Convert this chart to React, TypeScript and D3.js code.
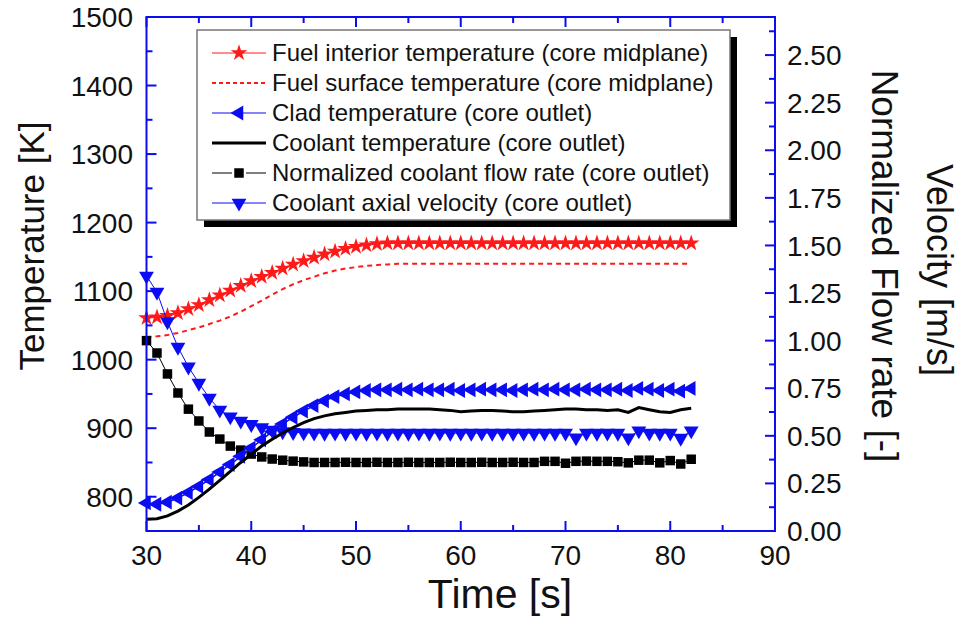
import React from 'react';
import * as d3 from 'd3';

// time axis, one sample per second
const time = [30, 31, 32, 33, 34, 35, 36, 37, 38, 39, 40, 41, 42, 43, 44, 45, 46, 47, 48, 49, 50, 51, 52, 53, 54, 55, 56, 57, 58, 59, 60, 61, 62, 63, 64, 65, 66, 67, 68, 69, 70, 71, 72, 73, 74, 75, 76, 77, 78, 79, 80, 81, 82];

// temperatures [K] (left axis)
const fuelInterior = [1061, 1062, 1064, 1068, 1074, 1080, 1087, 1094, 1101, 1108, 1115, 1121, 1127, 1133, 1139, 1144, 1149, 1154, 1158, 1162, 1165, 1167, 1169, 1170, 1170, 1170, 1170, 1170, 1170, 1170, 1170, 1170, 1170, 1170, 1170, 1170, 1170, 1170, 1170, 1170, 1170, 1170, 1170, 1170, 1170, 1170, 1170, 1170, 1170, 1170, 1170, 1170, 1170];
const fuelSurface = [1033, 1034, 1036, 1039, 1043, 1047, 1052, 1057, 1063, 1070, 1078, 1086, 1095, 1103, 1110, 1116, 1121, 1126, 1130, 1133, 1135, 1137, 1138, 1139, 1140, 1140, 1140, 1140, 1140, 1140, 1140, 1140, 1140, 1140, 1140, 1140, 1140, 1140, 1140, 1140, 1140, 1140, 1140, 1140, 1140, 1140, 1140, 1140, 1140, 1140, 1140, 1140, 1140];
const clad = [791, 789, 792, 798, 806, 815, 825, 836, 847, 859, 871, 883, 895, 906, 916, 925, 933, 940, 946, 950, 953, 955, 956, 956, 957, 956, 957, 956, 956, 957, 955, 956, 957, 956, 956, 955, 956, 957, 956, 957, 956, 956, 957, 956, 956, 957, 955, 958, 957, 955, 957, 954, 958];
const coolant = [767, 768, 772, 779, 788, 799, 811, 824, 837, 850, 862, 874, 884, 893, 901, 908, 914, 918, 921, 923, 925, 926, 927, 927, 928, 928, 928, 928, 927, 926, 924, 925, 926, 926, 925, 924, 924, 925, 926, 927, 928, 928, 927, 927, 926, 927, 923, 930, 927, 924, 923, 927, 929];

// right axis: normalized flow [-] and velocity [m/s]
const flowRate = [1.0, 0.935, 0.825, 0.725, 0.64, 0.578, 0.52, 0.483, 0.446, 0.425, 0.404, 0.389, 0.378, 0.372, 0.367, 0.363, 0.36, 0.36, 0.36, 0.361, 0.36, 0.36, 0.361, 0.36, 0.36, 0.361, 0.36, 0.36, 0.36, 0.361, 0.36, 0.36, 0.361, 0.36, 0.36, 0.361, 0.36, 0.36, 0.366, 0.366, 0.356, 0.366, 0.367, 0.366, 0.366, 0.364, 0.358, 0.372, 0.372, 0.358, 0.37, 0.352, 0.377];
const velocity = [1.34, 1.255, 1.1, 0.966, 0.862, 0.777, 0.698, 0.636, 0.6, 0.578, 0.56, 0.543, 0.53, 0.522, 0.518, 0.516, 0.515, 0.514, 0.515, 0.514, 0.515, 0.514, 0.515, 0.514, 0.515, 0.514, 0.515, 0.514, 0.515, 0.514, 0.515, 0.514, 0.515, 0.514, 0.515, 0.514, 0.515, 0.514, 0.515, 0.514, 0.515, 0.49, 0.515, 0.514, 0.515, 0.514, 0.49, 0.527, 0.515, 0.514, 0.515, 0.488, 0.527];

const xTicks = [30, 40, 50, 60, 70, 80, 90];
const leftTicks = [800, 900, 1000, 1100, 1200, 1300, 1400, 1500];
const rightTicks = [0, 0.25, 0.5, 0.75, 1, 1.25, 1.5, 1.75, 2, 2.25, 2.5];

const legendLabels = [
  'Fuel interior temperature (core midplane)',
  'Fuel surface temperature (core midplane)',
  'Clad temperature (core outlet)',
  'Coolant temperature (core outlet)',
  'Normalized coolant flow rate (core outlet)',
  'Coolant axial velocity (core outlet)',
];

const FONT = '"Liberation Sans", Arial, sans-serif';
const BLUE = '#0c0cf2';
const RED = '#ff1a1a';

export default function App() {
  const left = 146.5, right = 775, top = 17, bottom = 531;
  const x = d3.scaleLinear().domain([30, 90]).range([left, right]);
  const yL = d3.scaleLinear().domain([750, 1500]).range([bottom, top]);
  const yR = d3.scaleLinear().domain([0, 2.7]).range([bottom, top]);

  const lineL = (vals: number[]) =>
    d3.line<number>().x((_, i) => x(time[i])).y((d) => yL(d))(vals) || '';
  const lineR = (vals: number[]) =>
    d3.line<number>().x((_, i) => x(time[i])).y((d) => yR(d))(vals) || '';

  const star = d3.symbol().type(d3.symbolStar).size(85)() || '';
  const tri = d3.symbol().type(d3.symbolTriangle).size(95)() || '';
  const square = d3.symbol().type(d3.symbolSquare).size(90)() || '';

  const xMinor = d3.range(35, 90, 10);
  const lMinor = d3.range(850, 1500, 100);
  const rMinor = d3.range(0.125, 2.7, 0.25);

  const legendX = 197, legendY = 30, legendW = 533, legendH = 190;
  const rowY = (i: number) => legendY + 23 + i * 30;

  return (
    <svg width={972} height={627} style={{ position: 'absolute', left: 0, top: 0, background: '#fff' }} fontFamily={FONT}>
      {/* legend box with shadow */}
      <rect x={legendX + 7} y={legendY + 7} width={legendW} height={legendH} fill="#000" />
      <rect x={legendX} y={legendY} width={legendW} height={legendH} fill="#fff" stroke="#777" strokeWidth={1.5} />
      {legendLabels.map((lab, i) => {
        const cy = rowY(i);
        const lx0 = 212, lx1 = 266, mx = 239;
        let sample: React.ReactNode = null;
        if (i === 0) sample = (<g><line x1={lx0} x2={lx1} y1={cy} y2={cy} stroke={RED} strokeWidth={1.2} /><path d={star} transform={`translate(${mx},${cy})`} fill={RED} /></g>);
        if (i === 1) sample = <line x1={lx0} x2={lx1} y1={cy} y2={cy} stroke={RED} strokeWidth={2} strokeDasharray="4,3" />;
        if (i === 2) sample = (<g><line x1={lx0} x2={lx1} y1={cy} y2={cy} stroke={BLUE} strokeWidth={1.2} /><path d={tri} transform={`translate(${mx},${cy}) rotate(-90)`} fill={BLUE} /></g>);
        if (i === 3) sample = <line x1={lx0} x2={lx1} y1={cy} y2={cy} stroke="#000" strokeWidth={3} />;
        if (i === 4) sample = (<g><line x1={lx0} x2={lx1} y1={cy} y2={cy} stroke="#000" strokeWidth={1.2} /><rect x={mx - 7} y={cy - 5} width={14} height={10} fill="#fff" /><path d={square} transform={`translate(${mx},${cy})`} fill="#000" /></g>);
        if (i === 5) sample = (<g><line x1={lx0} x2={lx1} y1={cy} y2={cy} stroke={BLUE} strokeWidth={1.2} /><path d={tri} transform={`translate(${mx},${cy}) rotate(180)`} fill={BLUE} /></g>);
        return (
          <g key={lab}>
            {sample}
            <text x={272} y={cy} dy="0.35em" fontSize={24} fill="#111">{lab}</text>
          </g>
        );
      })}

      {/* curves */}
      <path d={lineL(fuelInterior)} fill="none" stroke={RED} strokeWidth={1.5} />
      {fuelInterior.map((v, i) => <path key={'s' + i} d={star} transform={`translate(${x(time[i])},${yL(v)})`} fill={RED} />)}
      <path d={lineL(fuelSurface)} fill="none" stroke={RED} strokeWidth={2} strokeDasharray="5,4" />
      <path d={lineR(velocity)} fill="none" stroke={BLUE} strokeWidth={1} />
      {velocity.map((v, i) => <path key={'v' + i} d={tri} transform={`translate(${x(time[i])},${yR(v)}) rotate(180)`} fill={BLUE} />)}
      <path d={lineR(flowRate)} fill="none" stroke="#000" strokeWidth={1} />
      {flowRate.map((v, i) => <path key={'f' + i} d={square} transform={`translate(${x(time[i])},${yR(v)})`} fill="#000" />)}
      <path d={lineL(clad)} fill="none" stroke={BLUE} strokeWidth={1.5} />
      {clad.map((v, i) => <path key={'c' + i} d={tri} transform={`translate(${x(time[i])},${yL(v)}) rotate(-90)`} fill={BLUE} />)}
      <path d={lineL(coolant)} fill="none" stroke="#000" strokeWidth={3} />

      {/* frame and ticks */}
      <rect x={left} y={top} width={right - left} height={bottom - top} fill="none" stroke={BLUE} strokeWidth={2} />
      {xTicks.map((t) => (
        <g key={'xt' + t}>
          <line x1={x(t)} x2={x(t)} y1={bottom} y2={bottom - 10} stroke={BLUE} strokeWidth={2} />
          <line x1={x(t)} x2={x(t)} y1={top} y2={top + 10} stroke={BLUE} strokeWidth={2} />
          <text x={x(t)} y={565} textAnchor="middle" fontSize={28} fill="#111">{t}</text>
        </g>
      ))}
      {xMinor.map((t) => (
        <g key={'xm' + t}>
          <line x1={x(t)} x2={x(t)} y1={bottom} y2={bottom - 6} stroke={BLUE} strokeWidth={2} />
          <line x1={x(t)} x2={x(t)} y1={top} y2={top + 6} stroke={BLUE} strokeWidth={2} />
        </g>
      ))}
      {leftTicks.map((t) => (
        <g key={'lt' + t}>
          <line x1={left} x2={left + 10} y1={yL(t)} y2={yL(t)} stroke={BLUE} strokeWidth={2} />
          <text x={133} y={yL(t)} dy="0.36em" textAnchor="end" fontSize={28} fill="#111">{t}</text>
        </g>
      ))}
      {lMinor.map((t) => <line key={'lm' + t} x1={left} x2={left + 6} y1={yL(t)} y2={yL(t)} stroke={BLUE} strokeWidth={2} />)}
      {rightTicks.map((t) => (
        <g key={'rt' + t}>
          <line x1={right} x2={right - 10} y1={yR(t)} y2={yR(t)} stroke={BLUE} strokeWidth={2} />
          <text x={787} y={yR(t)} dy="0.36em" fontSize={28} fill="#111">{d3.format('.2f')(t)}</text>
        </g>
      ))}
      {rMinor.map((t) => <line key={'rm' + t} x1={right} x2={right - 6} y1={yR(t)} y2={yR(t)} stroke={BLUE} strokeWidth={2} />)}

      {/* axis titles */}
      <text x={500} y={608} textAnchor="middle" fontSize={41} fill="#111">Time [s]</text>
      <text transform="translate(44,246) rotate(-90)" textAnchor="middle" fontSize={35} fill="#111">Temperature [K]</text>
      <text transform="translate(872,266) rotate(90)" textAnchor="middle" fontSize={37} fill="#111">Normalized Flow rate [-]</text>
      <text transform="translate(927,270) rotate(90)" textAnchor="middle" fontSize={36} fill="#111">Velocity [m/s]</text>
    </svg>
  );
}
